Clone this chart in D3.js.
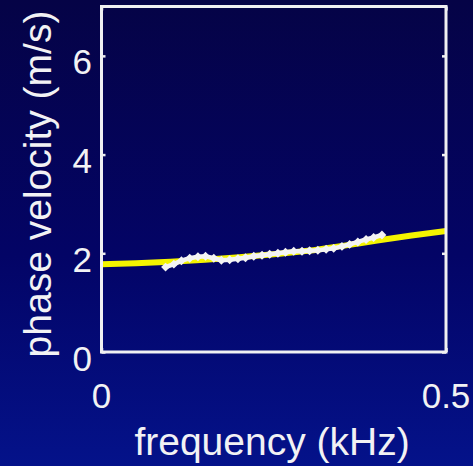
<!DOCTYPE html>
<html>
<head>
<meta charset="utf-8">
<script src="https://cdn.jsdelivr.net/npm/d3@7"></script>
<style>
  html, body { margin: 0; padding: 0; background: #04034a; }
  svg { display: block; }
  text { font-family: "Liberation Sans", Arial, sans-serif; fill: #f2f2f4; }
</style>
</head>
<body>
<svg id="chart" width="473" height="466"></svg>
<script>
// Model dispersion curve (phase velocity vs frequency)
const modelFreq = [0, 0.05, 0.10, 0.15, 0.20, 0.25, 0.30, 0.35, 0.40, 0.45, 0.50];
const modelVel  = [1.78, 1.80, 1.83, 1.87, 1.92, 1.98, 2.05, 2.15, 2.26, 2.36, 2.45];

// Measured phase velocities
const measFreq = [0.093, 0.105, 0.116, 0.128, 0.140, 0.151, 0.163, 0.174, 0.186, 0.198,
                  0.209, 0.221, 0.233, 0.244, 0.256, 0.267, 0.279, 0.291, 0.302, 0.314,
                  0.326, 0.337, 0.349, 0.360, 0.372, 0.384, 0.395, 0.407];
const measVel  = [1.72, 1.78, 1.85, 1.90, 1.93, 1.94, 1.90, 1.86, 1.87, 1.89,
                  1.91, 1.94, 1.96, 1.98, 2.00, 2.02, 2.04, 2.04, 2.05, 2.06,
                  2.08, 2.10, 2.14, 2.18, 2.23, 2.28, 2.32, 2.37];

const xTicks = [0, 0.5];
const yTicks = [0, 2, 4, 6];
const xTickLabels = ["0", "0.5"];
const yTickLabels = ["0", "2", "4", "6"];

const xTitle = "frequency (kHz)";
const yTitle = "phase velocity (m/s)";

const svg = d3.select("#chart");
const W = 473, H = 466;
const plot = { left: 101.5, right: 446, top: 6.5, bottom: 352 };

// background gradient
const defs = svg.append("defs");
const grad = defs.append("linearGradient")
  .attr("id", "bg").attr("x1", 0).attr("y1", 0).attr("x2", 0).attr("y2", 1);
grad.append("stop").attr("offset", "0%").attr("stop-color", "#050346");
grad.append("stop").attr("offset", "55%").attr("stop-color", "#030466");
grad.append("stop").attr("offset", "100%").attr("stop-color", "#04128a");
svg.append("rect").attr("width", W).attr("height", H).attr("fill", "url(#bg)");

const x = d3.scaleLinear().domain([0, 0.5]).range([plot.left, plot.right]);
const y = d3.scaleLinear().domain([0, 7]).range([plot.bottom, plot.top]);

// model curve
const line = d3.line().x(d => x(d[0])).y(d => y(d[1])).curve(d3.curveMonotoneX);
svg.append("path")
  .datum(modelFreq.map((f, i) => [f, modelVel[i]]))
  .attr("d", line)
  .attr("fill", "none")
  .attr("stroke", "#f4f400")
  .attr("stroke-width", 6);

// measured data
const meas = measFreq.map((f, i) => [f, measVel[i]]);
svg.append("path")
  .datum(meas)
  .attr("d", d3.line().x(d => x(d[0])).y(d => y(d[1])))
  .attr("fill", "none")
  .attr("stroke", "#f4f4f4")
  .attr("stroke-width", 4.5);
const sym = d3.symbol().type(d3.symbolSquare).size(40);
svg.append("g").selectAll("path")
  .data(meas)
  .join("path")
  .attr("d", sym)
  .attr("transform", d => `translate(${x(d[0])},${y(d[1])}) rotate(45)`)
  .attr("fill", "#f4f4f4");

// axes: inward ticks on all four sides
const tick = 4;
const styleAxis = g => {
  g.select(".domain").remove();
  g.selectAll(".tick line").attr("stroke", "#f0f0f0").attr("stroke-width", 2.5);
  g.selectAll(".tick text").remove();
};
svg.append("g").attr("transform", `translate(${plot.left},0)`)
  .call(d3.axisLeft(y).tickValues(yTicks).tickSize(-tick)).call(styleAxis);
svg.append("g").attr("transform", `translate(${plot.right},0)`)
  .call(d3.axisRight(y).tickValues(yTicks).tickSize(-tick)).call(styleAxis);
svg.append("g").attr("transform", `translate(0,${plot.bottom})`)
  .call(d3.axisBottom(x).tickValues(xTicks).tickSize(-tick)).call(styleAxis);
svg.append("g").attr("transform", `translate(0,${plot.top})`)
  .call(d3.axisTop(x).tickValues(xTicks).tickSize(-tick)).call(styleAxis);

// frame
svg.append("rect")
  .attr("x", plot.left).attr("y", plot.top)
  .attr("width", plot.right - plot.left).attr("height", plot.bottom - plot.top)
  .attr("fill", "none").attr("stroke", "#f0f0f2").attr("stroke-width", 3);

// tick labels
svg.append("g").selectAll("text")
  .data(yTicks)
  .join("text")
  .attr("x", 92)
  .attr("y", d => y(d) + 18.5)
  .attr("text-anchor", "end")
  .attr("font-size", 35)
  .text((d, i) => yTickLabels[i]);
svg.append("g").selectAll("text")
  .data(xTicks)
  .join("text")
  .attr("x", d => x(d))
  .attr("y", 407.5)
  .attr("text-anchor", "middle")
  .attr("font-size", 35)
  .text((d, i) => xTickLabels[i]);

// axis titles
svg.append("text")
  .attr("x", 272).attr("y", 455)
  .attr("text-anchor", "middle")
  .attr("font-size", 39)
  .text(xTitle);
svg.append("text")
  .attr("transform", "translate(51,184) rotate(-90)")
  .attr("text-anchor", "middle")
  .attr("font-size", 39)
  .text(yTitle);
</script>
</body>
</html>
